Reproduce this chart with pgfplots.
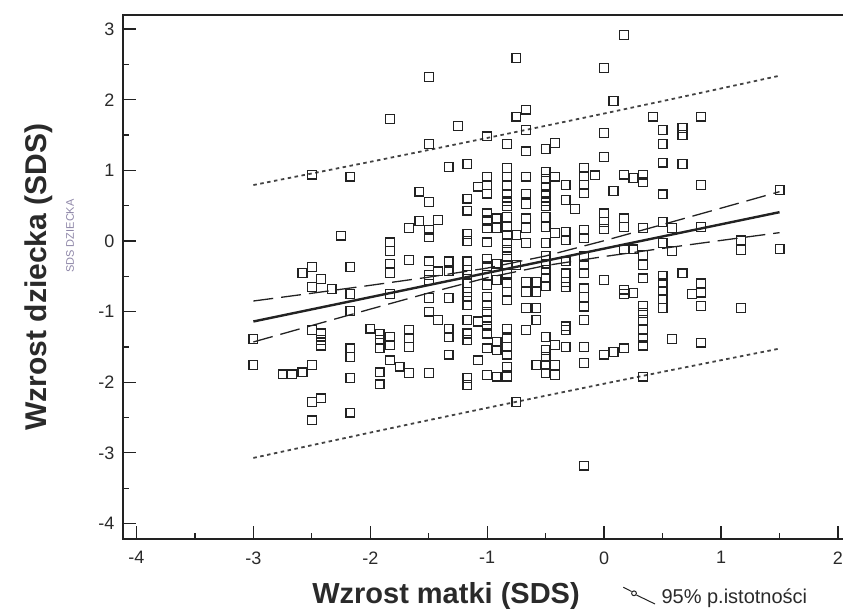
\documentclass[border=0pt]{standalone}
\usepackage{fontspec}
\setmainfont{Liberation Sans}
\usepackage{pgfplots}
\pgfplotsset{compat=1.18}
\definecolor{ink}{HTML}{222222}
\definecolor{txt}{HTML}{2A2A2A}
\definecolor{faint}{HTML}{8E86A8}
\newcommand{\tl}[1]{\mbox{\fontsize{18}{21}\selectfont\color{txt}#1}}
\begin{document}
\begin{tikzpicture}[x=1pt,y=1pt]
\useasboundingbox (0,0) rectangle (843,610);
\begin{axis}[
  at={(123pt,71pt)}, anchor=south west,
  scale only axis, width=722pt, height=524pt,
  xmin=-4.115, xmax=2.06, ymin=-4.22, ymax=3.2,
  axis line style={line width=2.2pt, ink},
  xtick={-4,-3,-2,-1,0,1,2},
  xticklabels={\tl{-4},\tl{-3},\tl{-2},\tl{-1},\tl{0},\tl{1},\tl{2}},
  ytick={-4,-3,-2,-1,0,1,2,3},
  yticklabels={\tl{-4},\tl{-3},\tl{-2},\tl{-1},\tl{0},\tl{1},\tl{2},\tl{3}},
  minor x tick num=1, minor y tick num=1,
  xtick pos=bottom, ytick pos=left,
  tick align=inside,
  major tick length=13pt, minor tick length=6pt,
  every tick/.style={line width=1.3pt, ink},
  xticklabel style={yshift=-9pt},
  yticklabel style={xshift=-5pt},
  clip=true,
]
% scatter of observations
\addplot[only marks, mark=square, mark size=4.4pt, mark options={line width=1.25pt, draw=ink}] table {
x y
-3 -1.39
-3 -1.76
-2.75 -1.89
-2.67 -1.89
-2.58 -0.45
-2.58 -1.86
-2.5 0.94
-2.5 -0.37
-2.5 -0.65
-2.5 -1.26
-2.5 -1.76
-2.5 -2.28
-2.5 -2.54
-2.42 -0.54
-2.42 -1.31
-2.42 -1.40
-2.42 -1.48
-2.42 -2.23
-2.33 -0.68
-2.25 0.075
-2.17 0.91
-2.17 -0.37
-2.17 -0.75
-2.17 -0.99
-2.17 -1.52
-2.17 -1.64
-2.17 -1.94
-2.17 -2.43
-2.0 -1.24
-1.92 -1.32
-1.92 -1.40
-1.92 -1.52
-1.92 -1.86
-1.92 -2.03
-1.83 1.73
-1.83 -0.02
-1.83 -0.14
-1.83 -0.32
-1.83 -0.45
-1.83 -0.75
-1.83 -1.36
-1.83 -1.47
-1.83 -1.69
-1.75 -1.78
-1.67 0.18
-1.67 -0.27
-1.67 -1.26
-1.67 -1.38
-1.67 -1.50
-1.67 -1.87
-1.58 0.70
-1.58 0.28
-1.5 2.32
-1.5 1.37
-1.5 0.55
-1.5 0.16
-1.5 0.05
-1.5 -0.29
-1.5 -0.48
-1.5 -0.55
-1.5 -0.81
-1.5 -1.0
-1.5 -1.87
-1.42 0.30
-1.42 -0.43
-1.42 -1.12
-1.33 1.05
-1.33 -0.29
-1.33 -0.43
-1.33 -0.81
-1.33 -1.24
-1.33 -1.36
-1.33 -1.61
-1.25 1.63
-1.17 1.09
-1.17 0.60
-1.17 0.43
-1.17 0.10
-1.17 0.00
-1.17 -0.29
-1.17 -0.41
-1.17 -0.48
-1.17 -0.60
-1.17 -0.72
-1.17 -0.79
-1.17 -0.91
-1.17 -1.12
-1.17 -1.31
-1.17 -1.40
-1.17 -1.94
-1.17 -2.04
-1.08 0.77
-1.08 -1.14
-1.08 -1.69
-1.0 1.48
-1.0 0.91
-1.0 0.79
-1.0 0.67
-1.0 0.39
-1.0 0.29
-1.0 0.18
-1.0 -0.02
-1.0 -0.25
-1.0 -0.36
-1.0 -0.48
-1.0 -0.62
-1.0 -0.79
-1.0 -0.91
-1.0 -1.0
-1.0 -1.12
-1.0 -1.21
-1.0 -1.31
-1.0 -1.52
-1.0 -1.90
-0.92 0.32
-0.92 0.18
-0.92 -0.32
-0.92 -0.55
-0.92 -1.43
-0.92 -1.54
-0.92 -1.92
-0.83 1.37
-0.83 1.03
-0.83 0.91
-0.83 0.78
-0.83 0.66
-0.83 0.56
-0.83 0.49
-0.83 0.34
-0.83 0.20
-0.83 0.085
-0.83 -0.03
-0.83 -0.13
-0.83 -0.22
-0.83 -0.34
-0.83 -0.46
-0.83 -0.60
-0.83 -0.72
-0.83 -0.84
-0.83 -1.24
-0.83 -1.38
-0.83 -1.50
-0.83 -1.61
-0.83 -1.78
-0.83 -1.92
-0.75 2.59
-0.75 1.76
-0.75 0.085
-0.75 -0.34
-0.75 -2.28
-0.67 1.86
-0.67 1.57
-0.67 1.27
-0.67 0.91
-0.67 0.67
-0.67 0.52
-0.67 0.32
-0.67 0.18
-0.67 -0.03
-0.67 -0.58
-0.67 -0.72
-0.67 -0.95
-0.67 -1.26
-0.58 -0.58
-0.58 -0.72
-0.58 -0.95
-0.58 -1.12
-0.58 -1.76
-0.5 1.30
-0.5 0.98
-0.5 0.88
-0.5 0.77
-0.5 0.66
-0.5 0.56
-0.5 0.49
-0.5 0.34
-0.5 0.20
-0.5 -0.03
-0.5 -0.21
-0.5 -0.32
-0.5 -0.41
-0.5 -0.53
-0.5 -0.64
-0.5 -1.36
-0.5 -1.54
-0.5 -1.64
-0.5 -1.76
-0.5 -1.87
-0.42 1.39
-0.42 0.91
-0.42 0.11
-0.42 -1.47
-0.42 -1.76
-0.42 -1.90
-0.33 0.79
-0.33 0.58
-0.33 0.13
-0.33 0.01
-0.33 -0.29
-0.33 -0.46
-0.33 -0.58
-0.33 -0.65
-0.33 -1.21
-0.33 -1.26
-0.33 -1.50
-0.25 0.45
-0.17 1.04
-0.17 0.92
-0.17 0.79
-0.17 0.68
-0.17 0.16
-0.17 0.04
-0.17 -0.22
-0.17 -0.34
-0.17 -0.46
-0.17 -0.67
-0.17 -0.79
-0.17 -0.93
-0.17 -1.12
-0.17 -1.50
-0.17 -1.73
-0.17 -3.18
-0.08 0.93
0 2.45
0 1.53
0 1.19
0 0.39
0 0.27
0 0.17
0 -0.55
0 -1.61
0.08 1.98
0.08 0.71
0.08 -1.57
0.17 2.92
0.17 0.94
0.17 0.32
0.17 0.20
0.17 -0.12
0.17 -0.69
0.17 -0.75
0.17 -1.52
0.25 0.89
0.25 -0.12
0.25 -0.74
0.33 0.94
0.33 0.83
0.33 0.18
0.33 -0.20
0.33 -0.34
0.33 -0.53
0.33 -0.92
0.33 -1.02
0.33 -1.12
0.33 -1.26
0.33 -1.38
0.33 -1.48
0.33 -1.92
0.42 1.76
0.5 1.57
0.5 1.37
0.5 1.11
0.5 0.66
0.5 0.27
0.5 -0.03
0.5 -0.49
0.5 -0.60
0.5 -0.71
0.5 -0.82
0.5 -0.95
0.58 0.18
0.58 -0.14
0.58 -1.39
0.67 1.60
0.67 1.50
0.67 1.09
0.67 -0.46
0.75 -0.75
0.83 1.76
0.83 0.79
0.83 0.20
0.83 -0.60
0.83 -0.73
0.83 -0.92
0.83 -1.44
1.17 0.01
1.17 -0.13
1.17 -0.95
1.5 0.72
1.5 -0.11
};
% regression line
\addplot[ink, line width=2.4pt] coordinates {(-3,-1.14) (1.5,0.408)};
% 95% confidence band
\addplot[ink, line width=1.3pt, dash pattern=on 20pt off 8pt] coordinates {
(-3,-0.850) (-2.5,-0.740) (-2,-0.628) (-1.5,-0.512) (-1,-0.384) (-0.5,-0.212) (0,0.004) (0.5,0.233) (1,0.465) (1.5,0.698)};
\addplot[ink, line width=1.3pt, dash pattern=on 20pt off 8pt] coordinates {
(-3,-1.430) (-2.5,-1.197) (-2,-0.965) (-1.5,-0.736) (-1,-0.520) (-0.5,-0.348) (0,-0.220) (0.5,-0.105) (1,0.008) (1.5,0.118)};
% 95% prediction band
\addplot[ink!85, line width=1.8pt, dash pattern=on 3.5pt off 3.5pt] coordinates {
(-3,0.792) (-2.5,0.956) (-2,1.121) (-1.5,1.289) (-1,1.459) (-0.5,1.631) (0,1.805) (0.5,1.981) (1,2.160) (1.5,2.340)};
\addplot[ink!85, line width=1.8pt, dash pattern=on 3.5pt off 3.5pt] coordinates {
(-3,-3.072) (-2.5,-2.892) (-2,-2.713) (-1.5,-2.537) (-1,-2.363) (-0.5,-2.191) (0,-2.021) (0.5,-1.853) (1,-1.688) (1.5,-1.524)};
\end{axis}
% axis titles
\node[font=\fontsize{29}{32}\selectfont\bfseries, text=txt, anchor=base] at (446,6.5) {Wzrost matki (SDS)};
\node[font=\fontsize{30}{33}\selectfont\bfseries, text=txt, rotate=90, anchor=base] at (46,333) {Wzrost dziecka (SDS)};
\node[font=\fontsize{11}{12}\selectfont, text=faint, rotate=90] at (70,374) {SDS DZIECKA};
% legend note
\draw[ink, line width=1pt] (623.3,22.7) -- (631.6,18.5);
\draw[ink, line width=1pt] (634,16.7) circle (2.4);
\draw[ink, line width=1pt] (636.4,15) -- (655,6);
\node[font=\fontsize{20}{22}\selectfont, text=txt, anchor=base west] at (658,6.5) {95\% p.istotności};
\end{tikzpicture}
\end{document}
